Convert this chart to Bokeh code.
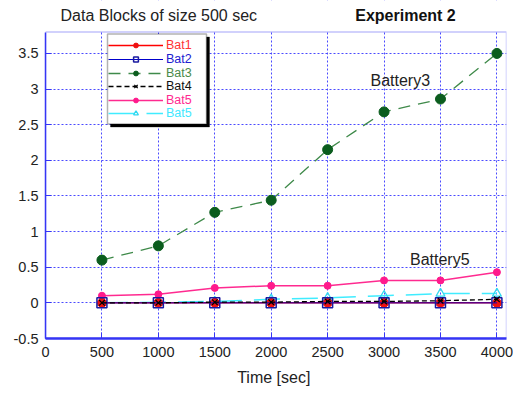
from bokeh.plotting import figure
from bokeh.models import (ColumnDataSource, Range1d, FixedTicker, Legend, LegendItem,
                          BoxAnnotation, Label)
from bokeh.embed import file_html
from bokeh.resources import INLINE

# ---------------- data ----------------
time_sec = [500, 1000, 1500, 2000, 2500, 3000, 3500, 4000]
bat1 = [0, 0, 0, 0, 0, 0, 0, 0]
bat2 = [0, 0, 0, 0, 0, 0, 0, 0]
bat3 = [0.60, 0.80, 1.27, 1.44, 2.15, 2.68, 2.86, 3.50]
bat4 = [0.0, 0.0, 0.01, 0.01, 0.02, 0.02, 0.03, 0.05]
bat5 = [0.10, 0.12, 0.21, 0.24, 0.24, 0.315, 0.315, 0.43]
bat6 = [0.0, 0.01, 0.02, 0.05, 0.07, 0.10, 0.13, 0.13]

legend_labels = ["Bat1", "Bat2", "Bat3", "Bat4", "Bat5", "Bat5"]
x_ticks = [0, 500, 1000, 1500, 2000, 2500, 3000, 3500, 4000]
y_ticks = [-0.5, 0, 0.5, 1, 1.5, 2, 2.5, 3, 3.5]
y_tick_labels = ["-0.5", "0", "0.5", "1", "1.5", "2", "2.5", "3", "3.5"]
title_left = "Data Blocks of  size 500 sec"
title_right = "Experiment 2"
x_label = "Time  [sec]"
note3 = "Battery3"
note5 = "Battery5"

X_MIN, X_MAX = 0, 4085
Y_MIN, Y_MAX = -0.5, 3.8
Y_CANVAS_TOP = 4.243   # extra strip above the plot area that holds the titles

FONT = "Liberation Sans"
BLUE = "#3535f5"

src = ColumnDataSource(dict(t=time_sec, b1=bat1, b2=bat2, b3=bat3, b4=bat4, b5=bat5, b6=bat6))

p = figure(width=513, height=393, output_backend="svg", toolbar_location=None,
           x_range=Range1d(X_MIN, X_MAX), y_range=Range1d(Y_MIN, Y_CANVAS_TOP),
           min_border_left=45, min_border_right=7, min_border_top=0, min_border_bottom=55,
           background_fill_color="white", border_fill_color="white")
p.outline_line_color = None

# grid
for g in (p.xgrid, p.ygrid):
    g.grid_line_color = "#4a4aff"
    g.grid_line_dash = "2 2"
    g.grid_line_width = 1
p.xgrid.ticker = FixedTicker(ticks=x_ticks)
p.ygrid.ticker = FixedTicker(ticks=y_ticks)

# axes
p.xaxis.ticker = FixedTicker(ticks=x_ticks)
p.yaxis.ticker = FixedTicker(ticks=y_ticks)
p.yaxis.bounds = (Y_MIN, Y_MAX)
p.yaxis.major_label_overrides = {v: s for v, s in zip(y_ticks, y_tick_labels)}
for ax in (p.xaxis[0], p.yaxis[0]):
    ax.axis_line_color = BLUE
    ax.major_tick_line_color = BLUE
    ax.major_tick_in = 6
    ax.major_tick_out = 0
    ax.minor_tick_line_color = None
    ax.major_label_text_font = FONT
    ax.major_label_text_font_size = "14.5px"
    ax.major_label_text_color = "#222222"
p.xaxis.axis_line_width = 2.5
p.yaxis.axis_line_width = 1.5
p.xaxis.major_label_standoff = 8
p.yaxis.major_label_standoff = 7
p.xaxis.axis_label = x_label
p.xaxis.axis_label_text_font = FONT
p.xaxis.axis_label_text_font_size = "16px"
p.xaxis.axis_label_text_font_style = "normal"
p.xaxis.axis_label_text_color = "#222222"
p.xaxis.axis_label_standoff = 9

# ---------------- series ----------------
l3 = p.line("t", "b3", source=src, line_color="#3f8a4a", line_width=1.3, line_dash="12 8")
m3 = p.scatter("t", "b3", source=src, marker="circle", size=10, fill_color="#0b5d1e", line_color="#0b5d1e")

l6 = p.line("t", "b6", source=src, line_color="#40ecff", line_width=1.5, line_dash="26 12")
m6 = p.scatter("t", "b6", source=src, marker="triangle", size=9, fill_color=None, line_color="#30d8f0", line_width=1.3)

l5 = p.line("t", "b5", source=src, line_color="#ff2a90", line_width=1.5)
m5 = p.scatter("t", "b5", source=src, marker="circle", size=7, fill_color="#ff1a8c", line_color="#ff1a8c")

l1 = p.line("t", "b1", source=src, line_color="#ff0000", line_width=1.5)
m1 = p.scatter("t", "b1", source=src, marker="circle", size=9, fill_color="#ee1111", line_color="#ee1111")

l2 = p.line("t", "b2", source=src, line_color="#0000cc", line_width=1)
m2 = p.scatter("t", "b2", source=src, marker="square", size=10, fill_color=None, line_color="#1a1aa0", line_width=1.5)

l4 = p.line("t", "b4", source=src, line_color="#000000", line_width=1.3, line_dash="5 3")
m4 = p.scatter("t", "b4", source=src, marker="x", size=8, line_color="#000000", line_width=1.2)

# ---------------- title strip + plot border ----------------
strip = BoxAnnotation(bottom=Y_MAX, fill_color="white", fill_alpha=1, line_color=None)
border = BoxAnnotation(bottom=Y_MIN, top=Y_MAX, left=X_MIN, right=X_MAX,
                       fill_alpha=0, line_color=BLUE, line_width=1.5)
p.add_layout(strip)
p.add_layout(border)

# ---------------- legend ----------------
shadow = BoxAnnotation(left=65, right=164, bottom=211.5, top=301.5,
                       left_units="screen", right_units="screen", bottom_units="screen", top_units="screen",
                       fill_color="black", fill_alpha=1, line_color="black")
box = BoxAnnotation(left=62, right=161, bottom=214.5, top=304.5,
                    left_units="screen", right_units="screen", bottom_units="screen", top_units="screen",
                    fill_color="white", fill_alpha=1, line_color="black", line_width=1.5)
p.add_layout(shadow)
p.add_layout(box)

entries = [([l1, m1], "#ff3333"), ([l2, m2], "#2020d0"), ([l3, m3], "#4a8a4a"),
           ([l4, m4], "#111111"), ([l5, m5], "#ff2a90"), ([l6, m6], "#40e8ff")]
row_centers = [45.7, 59.5, 73.0, 86.5, 100.0, 113.5]
frame_bottom = 337.5
for (rs, col), lab, c in zip(entries, legend_labels, row_centers):
    lg = Legend(items=[LegendItem(label=lab, renderers=rs)],
                location=(63, frame_bottom - c - 6),
                glyph_width=55, glyph_height=12, label_height=12, label_standoff=3,
                padding=0, margin=0, spacing=0,
                border_line_alpha=0, background_fill_alpha=0,
                label_text_font=FONT, label_text_font_size="12.5px", label_text_color=col)
    p.add_layout(lg)

# ---------------- texts ----------------
p.add_layout(Label(x=133, y=4.032, text=title_left, text_font=FONT, text_font_size="16px",
                   text_color="#222222", text_baseline="middle"))
p.add_layout(Label(x=2745, y=4.032, text=title_right, text_font=FONT, text_font_size="16px",
                   text_font_style="bold", text_color="#111111", text_baseline="middle"))
p.add_layout(Label(x=2880, y=3.12, text=note3, text_font=FONT, text_font_size="16px",
                   text_color="#222222", text_baseline="middle"))
p.add_layout(Label(x=3230, y=0.615, text=note5, text_font=FONT, text_font_size="16px",
                   text_color="#222222", text_baseline="middle"))

open("out.html", "w").write(file_html(p, INLINE))
